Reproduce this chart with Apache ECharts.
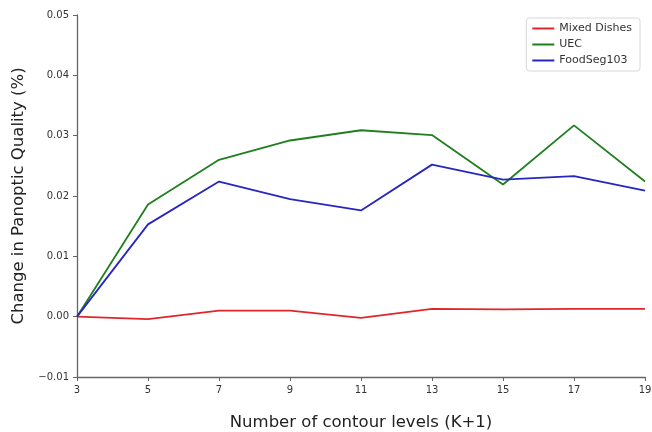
<!DOCTYPE html>
<html>
<head>
<meta charset="utf-8">
<script src="https://cdn.jsdelivr.net/npm/echarts@6/dist/echarts.min.js"></script>
<style>
  html, body { margin: 0; padding: 0; background: #fff; }
  #main { width: 652px; height: 432px; }
</style>
</head>
<body>
<div id="main"></div>
<script>
// contour levels (K+1)
var levels = ['3', '5', '7', '9', '11', '13', '15', '17', '19'];
var mixedDishes = [0, -0.0004, 0.001, 0.001, -0.0002, 0.0013, 0.0012, 0.0013, 0.0013];
var uec = [0, 0.0186, 0.026, 0.0292, 0.0309, 0.0301, 0.0219, 0.0317, 0.0224];
var foodSeg = [0, 0.0153, 0.0224, 0.0195, 0.0176, 0.0252, 0.0227, 0.0233, 0.0209];

var chart = echarts.init(document.getElementById('main'));

var font = 'DejaVu Sans';
var axisColor = '#666';

chart.setOption({
    animation: false,
    grid: { left: 77, right: 7, top: 15, bottom: 55, outerBoundsMode: 'none' },
    legend: {
        orient: 'vertical',
        right: 12,
        top: 18,
        padding: [5, 8, 5, 6],
        itemGap: 5,
        itemWidth: 22,
        itemHeight: 2,
        icon: 'rect',
        backgroundColor: '#fff',
        borderColor: '#d8d8d8',
        borderWidth: 1,
        borderRadius: 3,
        textStyle: { fontFamily: font, fontSize: 11, color: '#333' },
        data: ['Mixed Dishes', 'UEC', 'FoodSeg103']
    },
    xAxis: {
        type: 'category',
        data: levels,
        boundaryGap: false,
        name: 'Number of contour levels (K+1)',
        nameLocation: 'middle',
        nameGap: 37,
        nameTextStyle: { fontFamily: font, fontSize: 16.5, color: '#222' },
        axisLine: { onZero: false, lineStyle: { color: axisColor, width: 1.3 } },
        axisTick: { alignWithLabel: true, length: 4, lineStyle: { color: axisColor } },
        axisLabel: { fontFamily: font, fontSize: 10, color: '#333', margin: 8 },
        splitLine: { show: false }
    },
    yAxis: {
        type: 'value',
        min: -0.01,
        max: 0.05,
        interval: 0.01,
        name: 'Change in Panoptic Quality (%)',
        nameLocation: 'middle',
        nameGap: 47,
        nameTextStyle: { fontFamily: font, fontSize: 16.5, color: '#222' },
        axisLine: { show: true, lineStyle: { color: axisColor, width: 1.3 } },
        axisTick: { show: true, length: 4, lineStyle: { color: axisColor } },
        axisLabel: {
            fontFamily: font, fontSize: 10, color: '#333', margin: 8,
            formatter: function (v) {
                var s = v.toFixed(2);
                return s.replace('-', '\u2212');
            }
        },
        splitLine: { show: false }
    },
    series: [
        {
            name: 'Mixed Dishes', type: 'line', data: mixedDishes,
            symbol: 'none', color: '#e0262b', lineStyle: { width: 1.8 }
        },
        {
            name: 'UEC', type: 'line', data: uec,
            symbol: 'none', color: '#1f7f1f', lineStyle: { width: 1.8 }
        },
        {
            name: 'FoodSeg103', type: 'line', data: foodSeg,
            symbol: 'none', color: '#2727c0', lineStyle: { width: 1.8 }
        }
    ]
});
</script>
</body>
</html>
